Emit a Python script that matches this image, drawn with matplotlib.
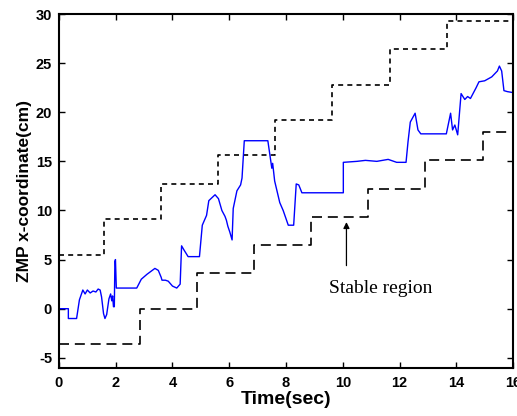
import numpy as np
import matplotlib
matplotlib.use("Agg")
import matplotlib.pyplot as plt

# upper bound of stable region (step edges / levels)
upperT = [0, 1.59, 3.60, 5.61, 7.60, 9.63, 11.67, 13.68, 16]
upperY = [5.5, 9.1, 12.7, 15.6, 19.2, 22.8, 26.4, 29.3]

# lower bound of stable region
lowerT = [0, 2.86, 4.85, 6.88, 8.89, 10.90, 12.91, 14.93, 16]
lowerY = [-3.6, 0.0, 3.6, 6.5, 9.35, 12.2, 15.1, 18.0]

# measured ZMP x-coordinate
zmpT = [0, 0.33, 0.33, 0.62, 0.72, 0.84, 0.92, 1.0, 1.1, 1.2, 1.3, 1.38, 1.45, 1.5,
        1.57, 1.62, 1.68, 1.76, 1.82, 1.86, 1.89, 1.92, 1.95, 1.97, 1.99, 2.02, 2.74,
        2.9, 3.1, 3.38, 3.5, 3.6, 3.63, 3.75, 3.85, 4.0, 4.15, 4.27, 4.32, 4.4, 4.55,
        4.95, 5.05, 5.2, 5.28, 5.5, 5.62, 5.74, 5.85, 5.9, 5.95, 6.02, 6.1, 6.14, 6.27,
        6.4, 6.45, 6.53, 7.36, 7.44, 7.5, 7.53, 7.6, 7.78, 7.9, 8.08, 8.27, 8.36, 8.45,
        8.56, 10.02, 10.02, 10.5, 10.8, 11.2, 11.6, 11.9, 12.23, 12.3, 12.38, 12.55,
        12.65, 12.75, 13.65, 13.8, 13.87, 13.95, 14.05, 14.17, 14.3, 14.4, 14.5, 14.7,
        14.8, 15.0, 15.25, 15.45, 15.52, 15.6, 15.68, 15.8, 16]
zmpY = [0, 0, -1.0, -1.0, 0.9, 1.9, 1.5, 1.9, 1.6, 1.8, 1.7, 2.0, 1.9, 1.2,
        -0.5, -1.0, -0.6, 1.0, 1.5, 0.8, 1.3, 0.2, 0.2, 4.8, 5.0, 2.1, 2.1,
        3.0, 3.5, 4.1, 3.9, 3.2, 2.9, 2.9, 2.8, 2.3, 2.1, 2.5, 6.4, 6.0, 5.3,
        5.3, 8.5, 9.5, 11.0, 11.6, 11.2, 10.0, 9.4, 9.0, 8.4, 7.8, 7.0, 10.2, 12.0,
        12.6, 13.3, 17.1, 17.1, 15.5, 14.3, 14.8, 13.0, 10.8, 10.0, 8.5, 8.5, 12.7, 12.6,
        11.8, 11.8, 14.9, 15.0, 15.1, 15.0, 15.2, 14.9, 14.9, 17.0, 19.0, 19.9,
        18.2, 17.8, 17.8, 19.9, 18.2, 18.7, 17.7, 21.9, 21.3, 21.6, 21.4, 22.5,
        23.1, 23.2, 23.6, 24.2, 24.7, 24.2, 22.2, 22.1, 22.0]


def stepLine(edges, levels):
    xs, ys = [], []
    for i, lv in enumerate(levels):
        xs += [edges[i], edges[i + 1]]
        ys += [lv, lv]
    return xs, ys


def main():
    plt.rcParams['font.family'] = ['Liberation Sans', 'DejaVu Sans']
    plt.rcParams['axes.unicode_minus'] = False
    f = plt.figure(figsize=(5.17, 4.16), dpi=100)
    ax = f.add_axes([0.1141, 0.1163, 0.8782, 0.85])

    ux, uy = stepLine(upperT, upperY)
    lx, ly = stepLine(lowerT, lowerY)
    ax.plot(ux, uy, color='black', linewidth=1.2, dashes=(3, 2.5))
    ax.plot(lx, ly, color='black', linewidth=1.2, dashes=(6, 3.5))
    ax.plot(zmpT, zmpY, color='blue', linewidth=1.0)

    ax.annotate('', xy=(10.13, 9.1), xytext=(10.13, 4.1),
                arrowprops=dict(arrowstyle='-|>', color='black', lw=0.9,
                                mutation_scale=9))
    ax.text(11.34, 2.1, 'Stable region', ha='center', va='center',
            fontsize=14, family=['Liberation Serif', 'DejaVu Serif'])

    ax.set_xlim(0, 16)
    ax.set_ylim(-6, 30)
    ax.set_xticks(np.arange(0, 17, 2))
    ax.set_yticks(np.arange(-5, 31, 5))
    ax.tick_params(direction='in', top=True, right=True, length=4, width=1,
                   labelsize=10.5)
    ax.tick_params(axis='x', pad=6)
    ax.tick_params(axis='y', pad=5)
    for lbl in ax.get_xticklabels() + ax.get_yticklabels():
        lbl.set_fontweight('bold')
    for s in ax.spines.values():
        s.set_linewidth(1.5)

    ax.set_xlabel('Time(sec)', fontsize=14, fontweight='bold', labelpad=1)
    ax.set_ylabel('ZMP x-coordinate(cm)', fontsize=12.5, fontweight='bold', labelpad=3)

    f.savefig('out.png', dpi=100)
    plt.close()


if __name__ == "__main__":
    main()
